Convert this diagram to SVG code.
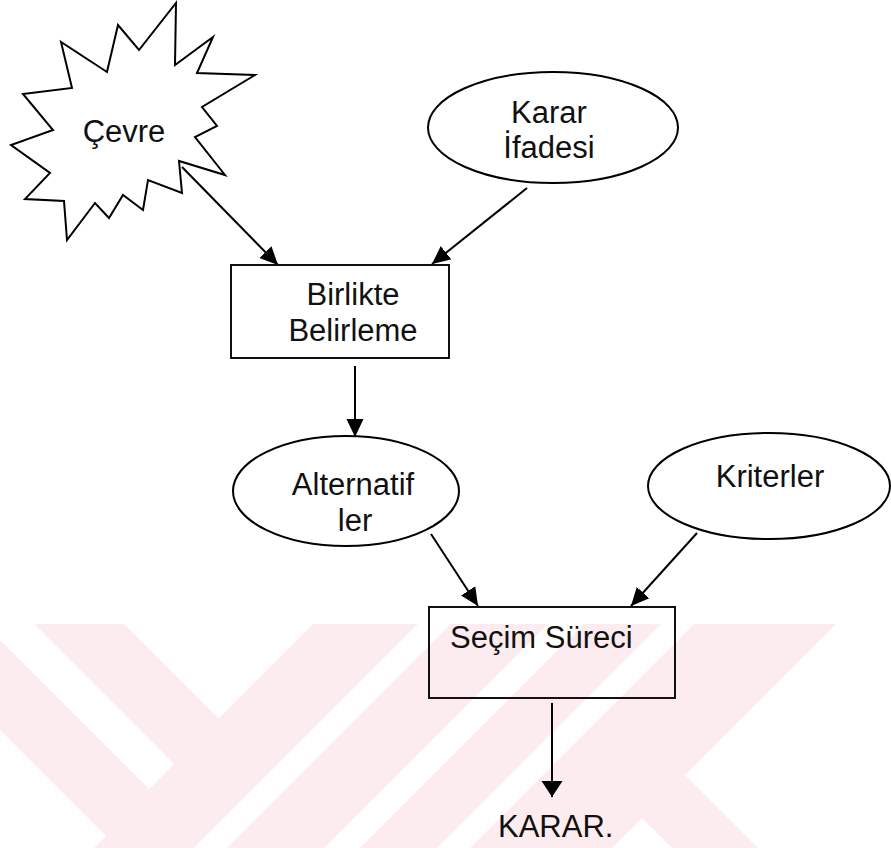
<svg xmlns="http://www.w3.org/2000/svg" width="891" height="848" viewBox="0 0 891 848">
  <style>
    .shape { fill: none; stroke: #000; stroke-width: 2; stroke-linejoin: miter; }
    .box { fill: none; stroke: #111; stroke-width: 2; }
    .edge { stroke: #000; stroke-width: 2; fill: none; marker-end: url(#arrow); }
    .edge.wide { marker-end: url(#arrow-wide); }
    .label { font-family: "Liberation Sans", Arial, sans-serif; font-size: 31px; fill: #111; }
    .mid { text-anchor: middle; }
    .wm { fill: #fdecef; }
    .gap { fill: #fff; }
  </style>
  <defs>
    <marker id="arrow" markerUnits="userSpaceOnUse" markerWidth="20" markerHeight="18" refX="18" refY="9" orient="auto">
      <path d="M0,0.5 L18,9 L0,17.5 z" fill="#000"/>
    </marker>
    <marker id="arrow-wide" markerUnits="userSpaceOnUse" markerWidth="18" markerHeight="22" refX="16" refY="11" orient="auto">
      <path d="M0,0.5 L16,11 L0,21.5 z" fill="#000"/>
    </marker>
  </defs>

  <rect width="891" height="848" fill="#fff"/>

  <!-- background emblem stripes -->
  <g id="emblem">
    <polygon class="wm" points="0,624 836,624 685,775 758,848 672,848 642,818 612,848 0,848"/>
    <polygon class="gap" points="-16,624 34,624 174,764 149,789"/>
    <polygon class="gap" points="124,624 313,624 218.5,718.5"/>
    <polygon class="gap" points="0,730 106,836 94,848 0,848"/>
    <polygon class="gap" points="418,624 451,624 227,848 194,848"/>
    <polygon class="gap" points="548,624 584,624 360,848 324,848"/>
    <polygon class="gap" points="661,624 694,624 470,848 437,848"/>
  </g>

  <!-- connectors -->
  <g id="connectors">
    <line class="edge" x1="182" y1="167" x2="278" y2="265"/>
    <line class="edge" x1="527" y1="188" x2="432" y2="264"/>
    <line class="edge" x1="355" y1="366" x2="355" y2="437"/>
    <line class="edge" x1="431" y1="534" x2="478" y2="606"/>
    <line class="edge" x1="697" y1="533" x2="631" y2="606"/>
    <line class="edge wide" x1="552" y1="703" x2="552" y2="797"/>
  </g>

  <g id="cevre">
    <polygon class="shape" points="176,3 175,65 213,37 197,73 255,75 202,107 217,126 195,137 225,175 179,161 182,193 148,180 143,210 123,195 109,218 95,203 67,240 64,201 25,199 50,173 11,145 53,130 23,94 72,88 61,42 107,72 118,25 139,50"/>
    <text class="label mid" x="124" y="142">Çevre</text>
  </g>

  <g id="karar-ifadesi">
    <ellipse class="shape" cx="553" cy="127.5" rx="125" ry="55.5"/>
    <text class="label mid" x="549" y="123">Karar</text>
    <text class="label mid" x="549" y="158">İfadesi</text>
  </g>

  <g id="birlikte-belirleme">
    <rect class="box" x="231" y="265" width="218" height="93"/>
    <text class="label mid" x="353" y="305">Birlikte</text>
    <text class="label mid" x="353" y="341">Belirleme</text>
  </g>

  <g id="alternatifler">
    <ellipse class="shape" cx="346" cy="491" rx="113" ry="55"/>
    <text class="label mid" x="353" y="495">Alternatif</text>
    <text class="label mid" x="355" y="531">ler</text>
  </g>

  <g id="kriterler">
    <ellipse class="shape" cx="769" cy="486" rx="121" ry="53"/>
    <text class="label mid" x="770" y="487">Kriterler</text>
  </g>

  <g id="secim-sureci">
    <rect class="box" x="429" y="607" width="246" height="91"/>
    <text class="label" x="450" y="648">Seçim Süreci</text>
  </g>

  <g id="karar">
    <text class="label" x="498" y="837">KARAR.</text>
  </g>
</svg>
